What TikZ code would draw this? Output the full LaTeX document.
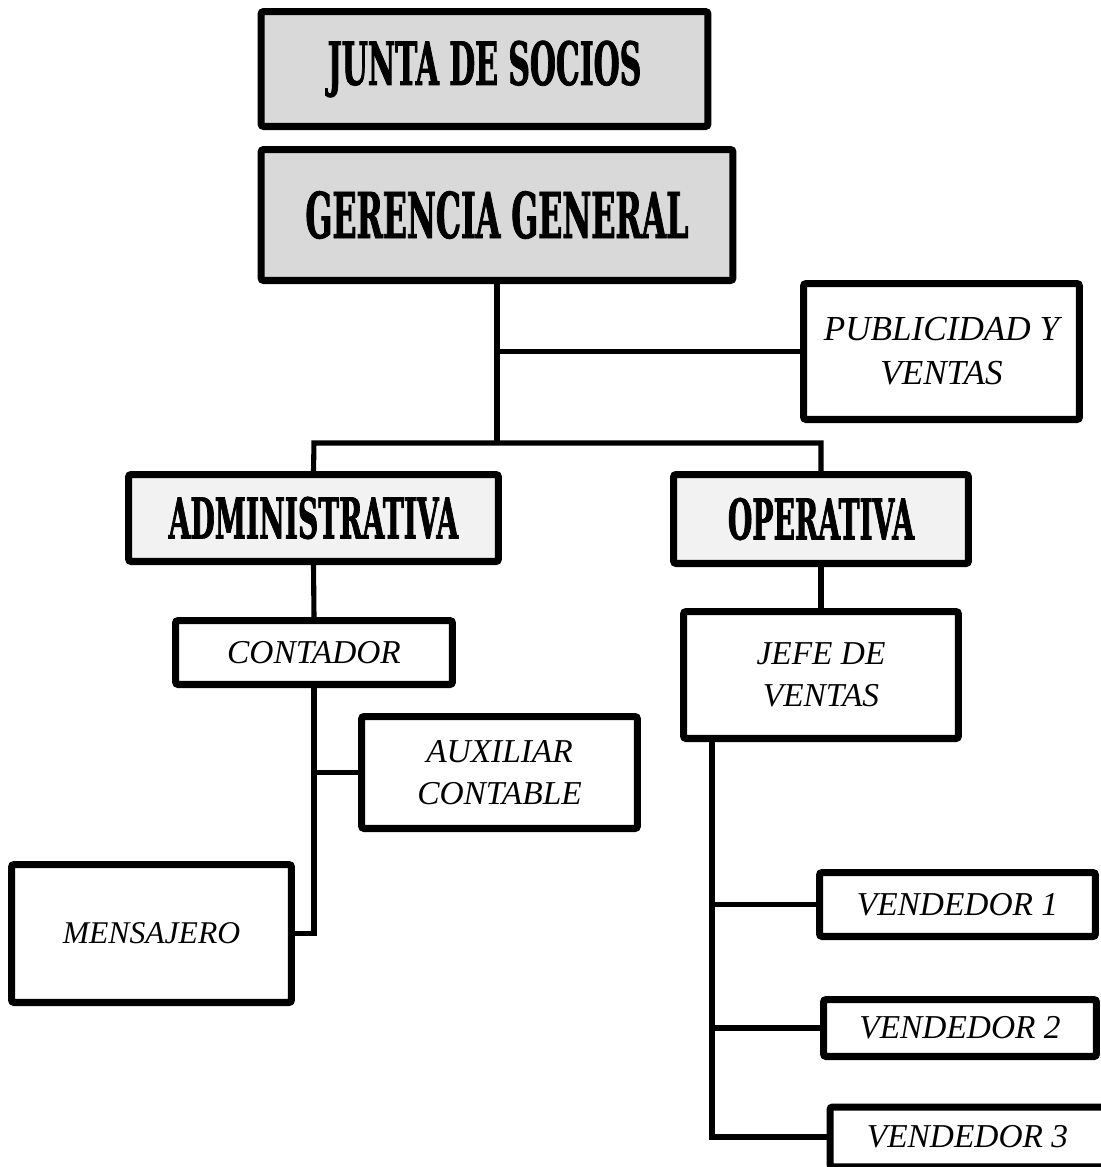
\documentclass[tikz,border=0pt]{standalone}
\usepackage{fontspec}
\setmainfont{Liberation Serif}
\newfontfamily\titlefont{DejaVu Serif}[FakeStretch=0.5, FakeBold=1.2]
\newfontfamily\cursfont{Liberation Serif}
\usetikzlibrary{shadows}
\begin{document}
\begin{tikzpicture}[x=0.02cm,y=-0.02cm,
  box/.style={draw=black, line width=4pt, rounded corners=1.5pt, align=center, inner sep=0pt,
    drop shadow={opacity=0.3, shadow xshift=1.2pt, shadow yshift=-1.8pt}},
  topbox/.style={box, fill=black!15, font=\titlefont\bfseries\fontsize{34}{34}\selectfont},
  midbox/.style={box, fill=black!5, font=\titlefont\bfseries\fontsize{32}{32}\selectfont},
  subbox/.style={box, fill=white, font=\cursfont\itshape\fontsize{19}{24}\selectfont},
  conn/.style={line width=2.9pt, line join=miter}]
\useasboundingbox (0,0) rectangle (1100,1167);
% nodes
\node[topbox, minimum width=8.94cm, minimum height=2.3cm] (jun) at (484.5,69) {JUNTA DE SOCIOS};
\node[topbox, minimum width=9.44cm, minimum height=2.62cm, font=\titlefont\bfseries\fontsize{36}{36}\selectfont] (ger) at (497,215) {GERENCIA GENERAL};
\node[subbox, minimum width=5.52cm, minimum height=2.72cm, font=\cursfont\itshape\fontsize{20}{25}\selectfont] (pub) at (941.5,351.5) {PUBLICIDAD Y\\VENTAS};
\node[midbox, minimum width=7.4cm, minimum height=1.74cm] (adm) at (313.5,518) {ADMINISTRATIVA};
\node[midbox, minimum width=5.9cm, minimum height=1.78cm] (ope) at (821,519) {OPERATIVA};
\node[subbox, minimum width=5.54cm, minimum height=1.28cm] (con) at (314,652.5) {CONTADOR};
\node[subbox, minimum width=5.5cm, minimum height=2.54cm] (jef) at (821,675) {JEFE DE\\VENTAS};
\node[subbox, minimum width=5.52cm, minimum height=2.24cm] (aux) at (499.5,772.5) {AUXILIAR\\CONTABLE};
\node[subbox, minimum width=5.6cm, minimum height=2.76cm, font=\cursfont\itshape\fontsize{18}{24}\selectfont] (men) at (151.5,933.5) {MENSAJERO};
\node[subbox, minimum width=5.52cm, minimum height=1.28cm] (v1) at (957.5,904.5) {VENDEDOR 1};
\node[subbox, minimum width=5.46cm, minimum height=1.14cm] (v2) at (960,1028) {VENDEDOR 2};
\node[subbox, minimum width=5.5cm, minimum height=1.2cm] (v3) at (967.5,1137) {VENDEDOR 3};
% junctions
\coordinate (jmain) at (497,443);
\coordinate (jpub) at (497,351.5);
\coordinate (jadm) at (314,443);
\coordinate (jope) at (821,443);
\coordinate (jjef) at (712,738);
% connectors
\draw[conn] (ger.south) -- (jmain);
\draw[conn] (jpub) -- (pub.west);
\draw[conn] (adm.north) -- (jadm) -- (jope) -- (ope.north);
\draw[conn] (adm.south) -- (con.north);
\draw[conn] (con.south) |- (men.east);
\draw[conn] (con.south |- aux.west) -- (aux.west);
\draw[conn] (ope.south) -- (jef.north);
\draw[conn] (jjef) |- (v3.west);
\draw[conn] (jjef |- v1.west) -- (v1.west);
\draw[conn] (jjef |- v2.west) -- (v2.west);
\end{tikzpicture}
\end{document}
